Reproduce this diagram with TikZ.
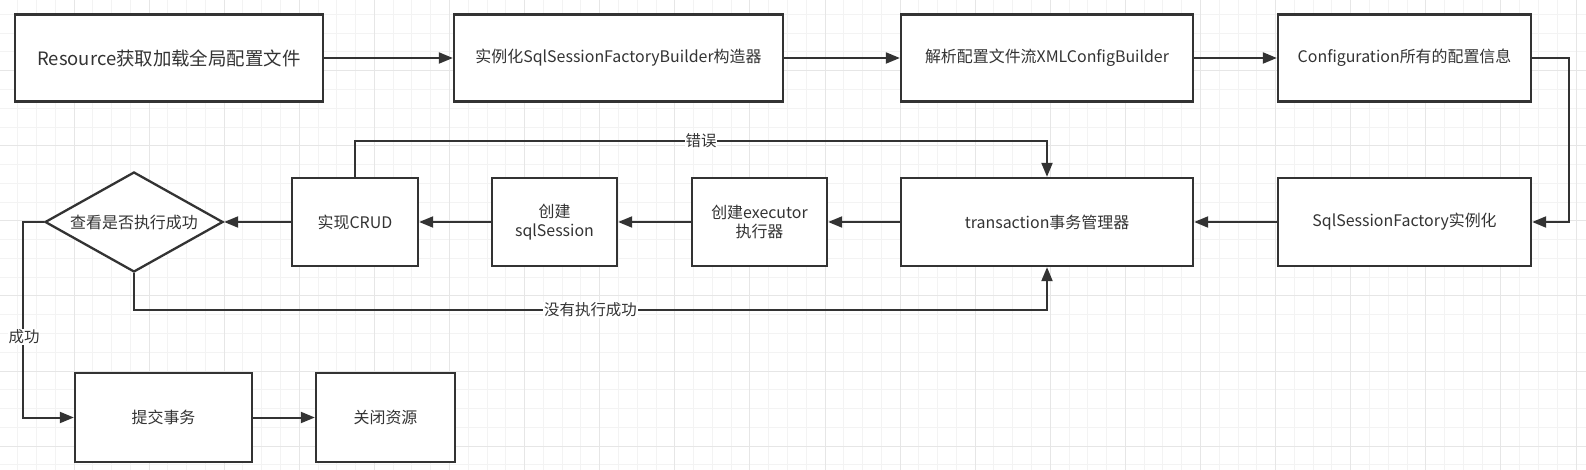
\documentclass[tikz,border=0pt]{standalone}
\usepackage{fontspec}
\setmainfont{Noto Sans CJK SC}
\usetikzlibrary{shapes.geometric,arrows.meta}
\definecolor{inkgray}{HTML}{333333}
\definecolor{gridminor}{HTML}{F3F3F3}
\definecolor{gridmajor}{HTML}{E6E6E6}
\tikzset{
    stepbox/.style={draw=inkgray,line width=2.3bp,fill=white,text=inkgray,inner sep=2bp,
        align=center,font=\fontsize{16}{19.5}\selectfont},
    decision/.style={draw=inkgray,line width=2.3bp,fill=white,text=inkgray,shape=diamond,aspect=1.78,
        inner sep=0pt,minimum width=178bp,minimum height=100bp,font=\fontsize{16}{19.5}\selectfont},
    flow/.style={draw=inkgray,line width=2bp,-{Triangle[length=14bp,width=11bp]}},
    edgelabel/.style={fill=white,text=inkgray,inner sep=1bp,font=\fontsize{15.5}{18}\selectfont}
}

\begin{document}
\begin{tikzpicture}[x=1bp,y=-1bp]
    \useasboundingbox (0,0) rectangle (1586,470);

    % Grid background
    \fill[white] (0,0) rectangle (1586,470);
    \foreach \k in {0,...,85} \draw[gridminor,line width=1bp] ({-1.1+18.775*\k},0) -- ({-1.1+18.775*\k},470);
    \foreach \k in {0,...,25} \draw[gridminor,line width=1bp] (0,{-4.4+18.775*\k}) -- (1586,{-4.4+18.775*\k});
    \foreach \k in {0,...,21} \draw[gridmajor,line width=1bp] ({-1.1+75.1*\k},0) -- ({-1.1+75.1*\k},470);
    \foreach \k in {0,...,6} \draw[gridmajor,line width=1bp] (0,{-4.4+75.1*\k}) -- (1586,{-4.4+75.1*\k});

    % Top row
    \node[stepbox,minimum width=308bp,minimum height=87bp,font=\fontsize{18.5}{22}\selectfont] (res) at (169,58) {Resource获取加载全局配置文件};
    \node[stepbox,minimum width=329bp,minimum height=87bp] (builder) at (618.5,58) {实例化SqlSessionFactoryBuilder构造器};
    \node[stepbox,minimum width=292bp,minimum height=87bp] (xmlcfg) at (1047,58) {解析配置文件流XMLConfigBuilder};
    \node[stepbox,minimum width=253bp,minimum height=87bp] (config) at (1404.5,58) {Configuration所有的配置信息};

    % Middle row
    \node[stepbox,minimum width=253bp,minimum height=88bp] (factory) at (1404.5,222) {SqlSessionFactory实例化};
    \node[stepbox,minimum width=292bp,minimum height=88bp] (trans) at (1047,222) {transaction事务管理器};
    \node[stepbox,minimum width=135bp,minimum height=88bp] (exec) at (759.5,222) {创建executor\\执行器};
    \node[stepbox,minimum width=125bp,minimum height=88bp] (sess) at (554.5,222) {创建\\sqlSession};
    \node[stepbox,minimum width=126bp,minimum height=88bp] (crud) at (355,222) {实现CRUD};
    \node[decision] (check) at (134,222) {查看是否执行成功};

    % Bottom row
    \node[stepbox,minimum width=177bp,minimum height=89bp] (commit) at (163.5,417.5) {提交事务};
    \node[stepbox,minimum width=139bp,minimum height=89bp] (close) at (385.5,417.5) {关闭资源};

    % Connectors
    \draw[flow] (res) -- (builder);
    \draw[flow] (builder) -- (xmlcfg);
    \draw[flow] (xmlcfg) -- (config);
    \draw[flow] (config.east) -- ++(37,0) |- (factory.east);
    \draw[flow] (factory) -- (trans);
    \draw[flow] (trans) -- (exec);
    \draw[flow] (exec) -- (sess);
    \draw[flow] (sess) -- (crud);
    \draw[flow] (crud) -- (check);
    \coordinate (errturn) at (1047,141);
    \draw[flow] (crud.north) |- (errturn) node[edgelabel,pos=0.75] {错误} -- (trans.north);
    \coordinate (failturn) at (1047,310);
    \draw[flow] (check.south) |- (failturn) node[edgelabel,pos=0.75] {没有执行成功} -- (trans.south);
    \coordinate (okturn) at (23,222);
    \draw[flow] (check.west) -- (okturn) |- (commit.west);
    \node[edgelabel] (oklabel) at (24,337) {成功};
    \draw[flow] (commit) -- (close);
\end{tikzpicture}
\end{document}
